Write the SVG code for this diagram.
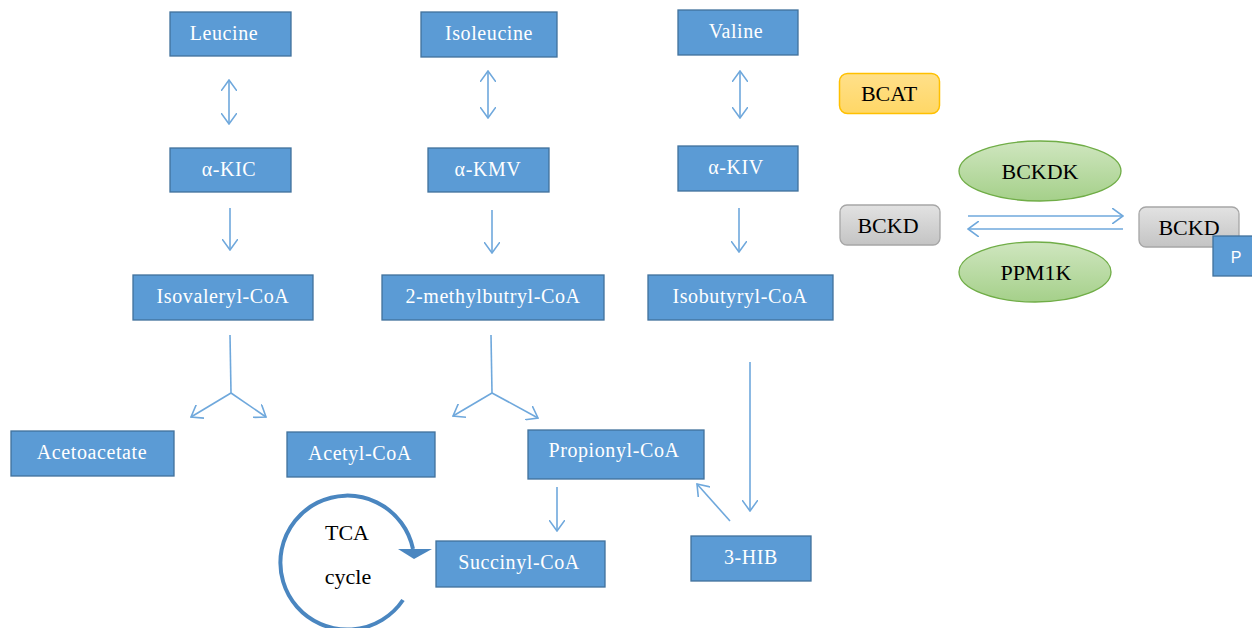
<svg xmlns="http://www.w3.org/2000/svg" width="1252" height="628" viewBox="0 0 1252 628">
<defs>
<style>
.box{fill:#5b9bd5;stroke:#41719c;stroke-width:1.3}
.wt{font-family:"Liberation Serif",serif;font-size:20px;fill:#ffffff;text-anchor:middle;letter-spacing:0.6px}
.bt{font-family:"Liberation Serif",serif;font-size:22px;fill:#000000;text-anchor:middle}
.ln{fill:none;stroke:#6fa8dc;stroke-width:1.6}
</style>
<linearGradient id="gGray" x1="0" y1="0" x2="0" y2="1"><stop offset="0" stop-color="#e2e2e2"/><stop offset="1" stop-color="#c4c4c4"/></linearGradient>
<linearGradient id="gGreen" x1="0" y1="0" x2="0" y2="1"><stop offset="0" stop-color="#cfe6bf"/><stop offset="1" stop-color="#a5d08a"/></linearGradient>
<linearGradient id="gYel" x1="0" y1="0" x2="0" y2="1"><stop offset="0" stop-color="#ffe08a"/><stop offset="1" stop-color="#ffd766"/></linearGradient>
<marker id="ah" viewBox="0 0 12 16" refX="11" refY="8" markerWidth="12" markerHeight="16" markerUnits="userSpaceOnUse" orient="auto-start-reverse">
<path d="M0,0 L11,8 L0,16" fill="none" stroke="#6fa8dc" stroke-width="1.6"/>
</marker>
</defs>

<g id="connectors">
<line class="ln" x1="229" y1="80" x2="229" y2="124" marker-start="url(#ah)" marker-end="url(#ah)"/>
<line class="ln" x1="488" y1="71" x2="488" y2="118" marker-start="url(#ah)" marker-end="url(#ah)"/>
<line class="ln" x1="740" y1="71" x2="740" y2="118" marker-start="url(#ah)" marker-end="url(#ah)"/>
<line class="ln" x1="230" y1="208" x2="230" y2="250" marker-end="url(#ah)"/>
<line class="ln" x1="492" y1="210" x2="492" y2="253" marker-end="url(#ah)"/>
<line class="ln" x1="739" y1="208" x2="739" y2="252" marker-end="url(#ah)"/>
<path class="ln" d="M230,335 L231,393"/>
<line class="ln" x1="231" y1="393" x2="191" y2="417" marker-end="url(#ah)"/>
<line class="ln" x1="231" y1="393" x2="266" y2="417" marker-end="url(#ah)"/>
<path class="ln" d="M491,335 L492,393"/>
<line class="ln" x1="492" y1="393" x2="453" y2="416" marker-end="url(#ah)"/>
<line class="ln" x1="492" y1="393" x2="538" y2="418" marker-end="url(#ah)"/>
<line class="ln" x1="750" y1="362" x2="750" y2="511" marker-end="url(#ah)"/>
<line class="ln" x1="557" y1="487" x2="557" y2="531" marker-end="url(#ah)"/>
<line class="ln" x1="730" y1="521" x2="697" y2="484" marker-end="url(#ah)"/>
<line class="ln" x1="968" y1="216" x2="1123" y2="216" marker-end="url(#ah)"/>
<line class="ln" x1="1123" y1="229" x2="968" y2="229" marker-end="url(#ah)"/>
</g>

<g id="tca">
<path d="M403,600 A67,67 0 1 1 413,549" fill="none" stroke="#4a86c0" stroke-width="4"/>
<polygon points="398,549 432,549 414,559" fill="#4a86c0"/>
<text class="bt" x="347" y="540">TCA</text>
<text class="bt" x="348" y="584">cycle</text>
</g>

<g id="leucine"><rect class="box" x="170" y="12" width="121" height="44"/><text class="wt" x="224" y="40">Leucine</text></g>
<g id="isoleucine"><rect class="box" x="421" y="12" width="136" height="45"/><text class="wt" x="489" y="40">Isoleucine</text></g>
<g id="valine"><rect class="box" x="678" y="10" width="120" height="45"/><text class="wt" x="736" y="38">Valine</text></g>
<g id="akic"><rect class="box" x="170" y="148" width="121" height="44"/><text class="wt" x="229" y="176">α-KIC</text></g>
<g id="akmv"><rect class="box" x="428" y="148" width="121" height="44"/><text class="wt" x="488" y="176">α-KMV</text></g>
<g id="akiv"><rect class="box" x="678" y="146" width="120" height="45"/><text class="wt" x="736" y="174">α-KIV</text></g>
<g id="isovaleryl"><rect class="box" x="133" y="275" width="180" height="45"/><text class="wt" x="223" y="303">Isovaleryl-CoA</text></g>
<g id="methylbutryl"><rect class="box" x="382" y="275" width="222" height="45"/><text class="wt" x="493" y="303">2-methylbutryl-CoA</text></g>
<g id="isobutyryl"><rect class="box" x="648" y="275" width="185" height="45"/><text class="wt" x="740" y="303">Isobutyryl-CoA</text></g>
<g id="acetoacetate"><rect class="box" x="11" y="431" width="163" height="45"/><text class="wt" x="92" y="459">Acetoacetate</text></g>
<g id="acetylcoa"><rect class="box" x="287" y="432" width="148" height="45"/><text class="wt" x="360" y="460">Acetyl-CoA</text></g>
<g id="propionyl"><rect class="box" x="528" y="430" width="176" height="49"/><text class="wt" x="614" y="457">Propionyl-CoA</text></g>
<g id="succinyl"><rect class="box" x="436" y="541" width="169" height="46"/><text class="wt" x="519" y="569">Succinyl-CoA</text></g>
<g id="hib"><rect class="box" x="691" y="536" width="120" height="45"/><text class="wt" x="751" y="564">3-HIB</text></g>

<g id="bcat"><rect x="839.5" y="73.5" width="100" height="40" rx="8" fill="url(#gYel)" stroke="#ffc000" stroke-width="1.5"/><text class="bt" x="889" y="101">BCAT</text></g>
<g id="bckdk"><ellipse cx="1040" cy="171" rx="81" ry="30" fill="url(#gGreen)" stroke="#70ad47" stroke-width="1.3"/><text class="bt" x="1040" y="179">BCKDK</text></g>
<g id="ppm1k"><ellipse cx="1035" cy="272" rx="76" ry="30" fill="url(#gGreen)" stroke="#70ad47" stroke-width="1.3"/><text class="bt" x="1036" y="280">PPM1K</text></g>
<g id="bckd1"><rect x="840" y="205" width="100" height="40" rx="7" fill="url(#gGray)" stroke="#a6a6a6" stroke-width="1.3"/><text class="bt" x="888" y="233">BCKD</text></g>
<g id="bckd2"><rect x="1139" y="207" width="100" height="40" rx="7" fill="url(#gGray)" stroke="#a6a6a6" stroke-width="1.3"/><text class="bt" x="1189" y="235">BCKD</text></g>
<g id="p"><rect class="box" x="1213" y="236" width="40" height="40"/><text x="1236" y="263" style="font-family:'Liberation Sans',sans-serif;font-size:16px;fill:#ffffff;text-anchor:middle">P</text></g>
</svg>
